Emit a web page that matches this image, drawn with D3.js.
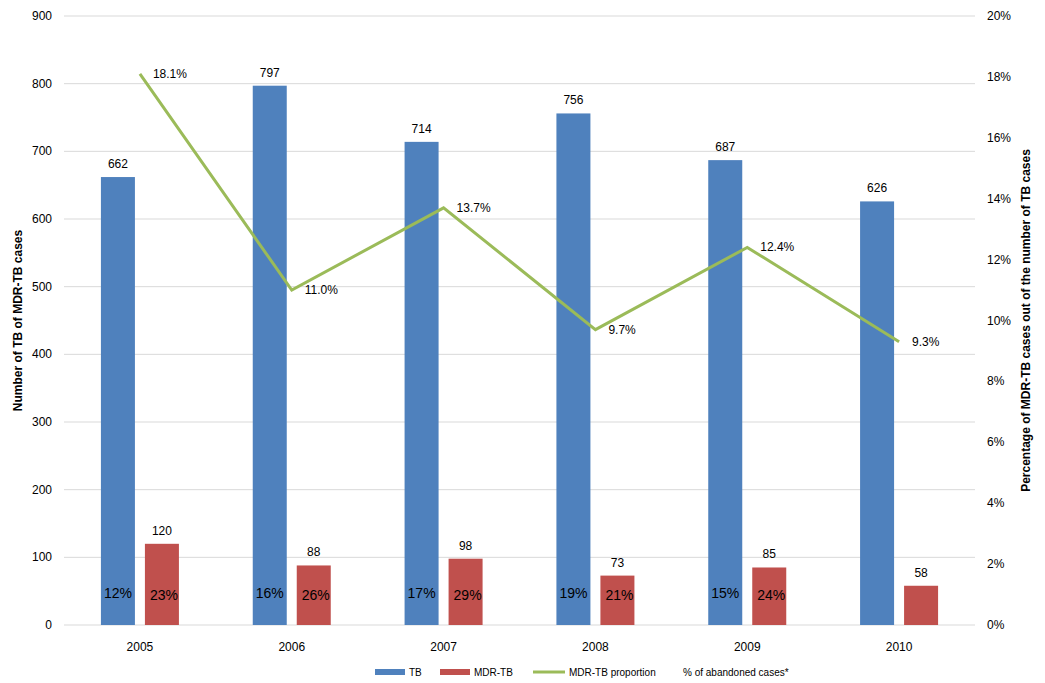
<!DOCTYPE html>
<html><head><meta charset="utf-8">
<script src="https://cdn.jsdelivr.net/npm/d3@7"></script>
<style>body{margin:0;background:#fff;font-family:Arial,"Liberation Sans",sans-serif;}</style>
</head><body><div class="canvas"></div>
<script>
// chart data
var years = ["2005","2006","2007","2008","2009","2010"];
var tbCases = [662, 797, 714, 756, 687, 626];
var mdrCases = [120, 88, 98, 73, 85, 58];
var mdrProportion = [18.1, 11.0, 13.7, 9.7, 12.4, 9.3];
var tbAbandoned = ["12%","16%","17%","19%","15%",""];
var mdrAbandoned = ["23%","26%","29%","21%","24%",""];
var leftTicks = [0,100,200,300,400,500,600,700,800,900];
var rightTicks = [0,2,4,6,8,10,12,14,16,18,20];

var W = 1045, H = 683;
var margin = {t:16, r:70, b:58, l:64};
var width = W - margin.l - margin.r, height = H - margin.t - margin.b;

var svg = d3.select('.canvas').append('svg').attr('width',W).attr('height',H);
var canvas = svg.append('g').attr('transform','translate('+margin.l+','+margin.t+')');

var x = d3.scaleBand().domain(years).range([0,width]);
var y = d3.scaleLinear().domain([0,900]).range([height,0]);
var y2 = d3.scaleLinear().domain([0,20]).range([height,0]);

// gridlines
canvas.selectAll('.grid').data(leftTicks).enter().append('line')
    .attr('x1',0).attr('x2',width)
    .attr('y1',function(d){return y(d);}).attr('y2',function(d){return y(d);})
    .attr('stroke','#d9d9d9').attr('stroke-width',1);

// axes labels
canvas.selectAll('.ly').data(leftTicks).enter().append('text')
    .attr('x',-12).attr('y',function(d){return y(d)+4;})
    .attr('text-anchor','end').attr('font-size',12).text(function(d){return d;});
canvas.selectAll('.ry').data(rightTicks).enter().append('text')
    .attr('x',width+12).attr('y',function(d){return y2(d)+4;})
    .attr('font-size',12).text(function(d){return d+'%';});
canvas.selectAll('.xl').data(years).enter().append('text')
    .attr('x',function(d){return x(d)+x.bandwidth()/2;}).attr('y',height+26)
    .attr('text-anchor','middle').attr('font-size',12).text(function(d){return d;});

var bw = 34, gap = 10;
function tbX(d){return x(d)+x.bandwidth()/2-gap/2-bw;}
function mdrX(d){return x(d)+x.bandwidth()/2+gap/2;}

var tb = years.map(function(d,i){return {year:d,v:tbCases[i],a:tbAbandoned[i]};});
var mdr = years.map(function(d,i){return {year:d,v:mdrCases[i],a:mdrAbandoned[i]};});

canvas.selectAll('.tb').data(tb).enter().append('rect')
    .attr('x',function(d){return tbX(d.year);}).attr('width',bw)
    .attr('y',function(d){return y(d.v);}).attr('height',function(d){return height-y(d.v);})
    .attr('fill','#4f81bd');
canvas.selectAll('.mdr').data(mdr).enter().append('rect')
    .attr('x',function(d){return mdrX(d.year);}).attr('width',bw)
    .attr('y',function(d){return y(d.v);}).attr('height',function(d){return height-y(d.v);})
    .attr('fill','#c0504d');

canvas.selectAll('.tbv').data(tb).enter().append('text')
    .attr('x',function(d){return tbX(d.year)+bw/2;}).attr('y',function(d){return y(d.v)-9;})
    .attr('text-anchor','middle').attr('font-size',12).text(function(d){return d.v;});
canvas.selectAll('.mdrv').data(mdr).enter().append('text')
    .attr('x',function(d){return mdrX(d.year)+bw/2;}).attr('y',function(d){return y(d.v)-9;})
    .attr('text-anchor','middle').attr('font-size',12).text(function(d){return d.v;});

canvas.selectAll('.tba').data(tb).enter().append('text')
    .attr('x',function(d){return tbX(d.year)+bw/2;}).attr('y',height-27)
    .attr('text-anchor','middle').attr('font-size',14).text(function(d){return d.a;});
canvas.selectAll('.mdra').data(mdr).enter().append('text')
    .attr('x',function(d){return mdrX(d.year)+bw/2+2;}).attr('y',height-25)
    .attr('text-anchor','middle').attr('font-size',14).text(function(d){return d.a;});

// proportion line
var pts = years.map(function(d,i){return {year:d,v:mdrProportion[i]};});
var line = d3.line().x(function(d){return x(d.year)+x.bandwidth()/2;}).y(function(d){return y2(d.v);});
canvas.append('path').datum(pts).attr('d',line)
    .attr('fill','none').attr('stroke','#9bbb59').attr('stroke-width',3);
canvas.selectAll('.pl').data(pts).enter().append('text')
    .attr('x',function(d){return x(d.year)+x.bandwidth()/2+13;}).attr('y',function(d){return y2(d.v)+4;})
    .attr('font-size',12).text(function(d){return d.v.toFixed(1)+'%';});

// axis titles
svg.append('text').attr('transform','translate(22,'+(margin.t+height/2)+') rotate(-90)')
    .attr('text-anchor','middle').attr('font-size',12).attr('font-weight','bold')
    .text('Number of TB of MDR-TB cases');
svg.append('text').attr('transform','translate(1030,'+(margin.t+height/2)+') rotate(-90)')
    .attr('text-anchor','middle').attr('font-size',12).attr('font-weight','bold')
    .text('Percentage of MDR-TB cases out of the number of TB cases');

// legend
var lg = svg.append('g').attr('font-size',10);
lg.append('rect').attr('x',375).attr('y',669).attr('width',30).attr('height',6).attr('fill','#4f81bd');
lg.append('text').attr('x',409).attr('y',676).text('TB');
lg.append('rect').attr('x',440).attr('y',669).attr('width',30).attr('height',6).attr('fill','#c0504d');
lg.append('text').attr('x',474).attr('y',676).text('MDR-TB');
lg.append('line').attr('x1',533).attr('x2',565).attr('y1',672).attr('y2',672).attr('stroke','#9bbb59').attr('stroke-width',3);
lg.append('text').attr('x',569).attr('y',676).text('MDR-TB proportion');
lg.append('text').attr('x',683).attr('y',676).text('% of abandoned cases*');
</script></body></html>
